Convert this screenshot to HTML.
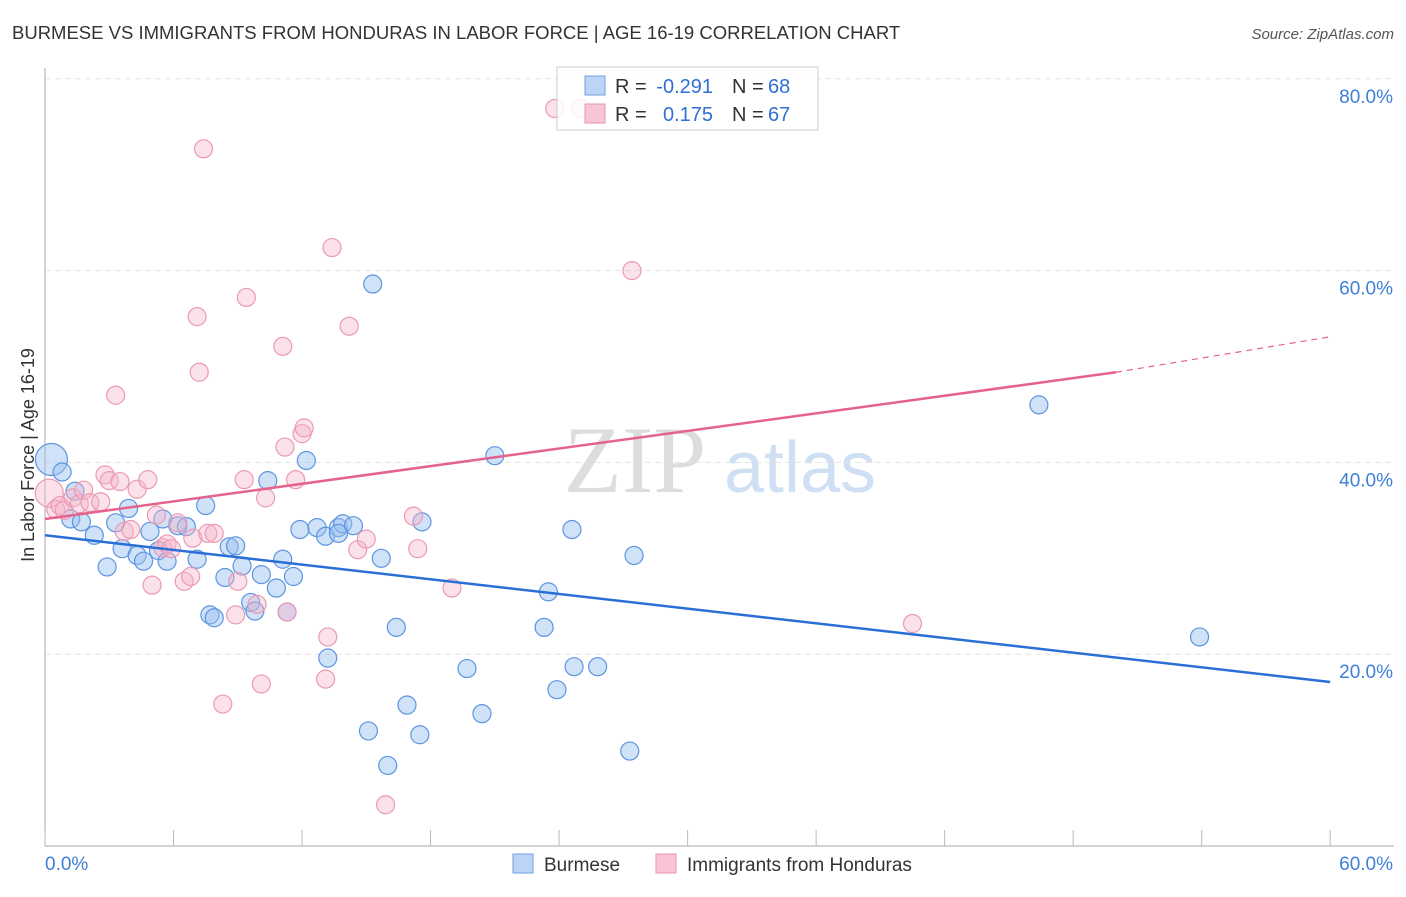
<!DOCTYPE html>
<html><head><meta charset="utf-8"><style>
body{margin:0;background:#fff;font-family:"Liberation Sans",sans-serif}
</style></head><body>
<svg id="c" width="1406" height="892" xmlns="http://www.w3.org/2000/svg" style="font-family:'Liberation Sans',sans-serif">
<text x="12" y="39" font-size="18.5" fill="#333">BURMESE VS IMMIGRANTS FROM HONDURAS IN LABOR FORCE | AGE 16-19 CORRELATION CHART</text>
<text x="1394" y="39" font-size="15" fill="#555" font-style="italic" text-anchor="end">Source: ZipAtlas.com</text>
<text x="635" y="492" font-size="95" fill="#ddd" font-family="Liberation Serif" text-anchor="middle">ZIP</text>
<text x="800" y="492" font-size="72" fill="#cfe0f4" text-anchor="middle">atlas</text>
<text transform="translate(34,455) rotate(-90)" font-size="18" fill="#333" text-anchor="middle">In Labor Force | Age 16-19</text>
<g id="grid"></g><g id="pts"></g><g id="lines"></g>
<g>
<rect x="557" y="67" width="261" height="63" fill="#fff" fill-opacity="0.85" stroke="#ccc"/>
<rect x="585" y="76" width="20" height="19" fill="#bcd4f6" stroke="#6f9fe0"/>
<rect x="585" y="104" width="20" height="19" fill="#f8c5d4" stroke="#e995b0"/>
<text x="615" y="93" font-size="20" fill="#333">R =</text>
<text x="713" y="93" font-size="20" fill="#2f6fd6" text-anchor="end">-0.291</text>
<text x="732" y="93" font-size="20" fill="#333">N =</text>
<text x="768" y="93" font-size="20" fill="#2f6fd6">68</text>
<text x="615" y="121" font-size="20" fill="#333">R =</text>
<text x="713" y="121" font-size="20" fill="#2f6fd6" text-anchor="end">0.175</text>
<text x="732" y="121" font-size="20" fill="#333">N =</text>
<text x="768" y="121" font-size="20" fill="#2f6fd6">67</text>
</g>
<g>
<rect x="513" y="854" width="20" height="19" fill="#bcd4f6" stroke="#6f9fe0"/>
<text x="544" y="871" font-size="19" fill="#333">Burmese</text>
<rect x="656" y="854" width="20" height="19" fill="#f8c5d4" stroke="#e995b0"/>
<text x="687" y="871" font-size="19" fill="#333">Immigrants from Honduras</text>
</g>
</svg>
<script>
const xTicks=[0,60];
const yTicks=[20,40,60,80];
const blueX=[0.3,0.8,1.4,1.2,1.7,2.3,2.9,3.3,3.9,3.6,4.3,4.6,4.9,5.3,5.5,5.7,6.2,6.6,7.1,7.5,7.7,7.9,8.4,8.6,8.9,9.2,9.6,9.8,10.1,10.4,10.8,11.1,11.6,11.3,11.9,12.2,12.7,13.1,13.7,13.9,14.4,13.7,13.2,15.1,15.3,15.7,16.0,16.4,16.9,17.5,17.6,19.7,20.4,21.0,23.3,23.5,23.9,24.6,24.7,25.8,27.3,27.5,46.4,53.9];
const blueY=[40.3,39.0,37.0,34.1,33.8,32.4,29.1,33.7,35.2,31.0,30.3,29.7,32.8,30.8,34.1,29.7,33.4,33.3,29.9,35.5,24.1,23.8,28.0,31.2,31.3,29.2,25.4,24.5,28.3,38.1,26.9,29.9,28.1,24.4,33.0,40.2,33.2,32.3,33.2,33.6,33.4,32.6,19.6,12.0,58.6,30.0,8.4,22.8,14.7,11.6,33.8,18.5,13.8,40.7,22.8,26.5,16.3,33.0,18.7,18.7,9.9,30.3,46.0,21.8];
const pinkX=[0.2,0.5,0.7,0.9,1.3,1.6,1.8,2.1,2.6,2.8,3.0,3.3,3.5,3.7,4.0,4.3,4.8,5.2,5.0,5.5,5.7,5.9,6.2,6.5,6.8,7.1,7.2,6.9,7.4,7.6,7.9,8.3,8.9,9.0,9.3,9.4,9.9,10.1,10.3,11.1,11.2,11.3,11.7,12.0,12.1,13.1,13.2,13.4,14.2,14.6,15.0,17.2,17.4,15.9,19.0,23.8,25.0,27.4,40.5];
const pinkY=[36.8,35.1,35.5,35.0,36.3,35.7,37.1,35.8,35.9,38.7,38.1,47.0,38.0,32.8,33.0,37.2,38.2,34.5,27.2,31.1,31.5,31.0,33.7,27.6,28.1,55.2,49.4,32.1,72.7,32.6,32.6,14.8,24.1,27.6,38.2,57.2,25.2,16.9,36.3,52.1,41.6,24.4,38.2,43.0,43.6,17.4,21.8,62.4,54.2,30.9,32.0,34.4,31.0,4.3,26.9,76.9,76.9,60.0,23.2];
const blueTrend=[32.4,17.1];
const pinkTrend=[34.1,50.0,49.4,53.1];
const X=v=>45+v*21.42, Y=v=>846-v*9.59;
const NS="http://www.w3.org/2000/svg";
function mk(t,a,p){const e=document.createElementNS(NS,t);for(const k in a)e.setAttribute(k,a[k]);p.appendChild(e);return e;}
const g=document.getElementById('grid');
yTicks.forEach(v=>{
 const l=mk('line',{x1:45,x2:1394,y1:Y(v),y2:Y(v),stroke:'#e4e4e4','stroke-dasharray':'6,4'},g);
 
 
 const t=mk('text',{x:1393,y:Y(v)+24,'font-size':19,fill:'#3f7fd8','text-anchor':'end'},g);t.textContent=v.toFixed(1)+'%';
 
 
});
const ax=mk('line',{x1:45,x2:45,y1:68,y2:846,stroke:'#aaa'},g);


const bx=mk('line',{x1:45,x2:1394,y1:846,y2:846,stroke:'#aaa'},g);


for(let i=0;i<=10;i++){const tk=mk('line',{x1:X(i*6),x2:X(i*6),y1:830,y2:846,stroke:'#bbb'},g);
 
 }
xTicks.forEach((v,i)=>{const t=mk('text',{x:i?1393:45,y:870,'font-size':19,fill:'#3f7fd8','text-anchor':i?'end':'start'},g);t.textContent=v.toFixed(1)+'%';
 
 });
const p=document.getElementById('pts');
blueX.forEach((x,i)=>{const c=mk('circle',{cx:X(x),cy:Y(blueY[i]),r:i==0?16:9,fill:'rgba(150,190,240,0.45)',stroke:'#5c95e0','stroke-width':1.2},p);
 
 });
pinkX.forEach((x,i)=>{const c=mk('circle',{cx:X(x),cy:Y(pinkY[i]),r:i==0?14:9,fill:'rgba(246,180,200,0.4)',stroke:'#eb9ab4','stroke-width':1.2},p);
 
 });
const L=document.getElementById('lines');
const b=mk('line',{x1:X(0),y1:Y(blueTrend[0]),x2:X(60),y2:Y(blueTrend[1]),stroke:'#2a6fd6','stroke-width':2.5},L);


const pk=mk('line',{x1:X(0),y1:Y(pinkTrend[0]),x2:X(pinkTrend[1]),y2:Y(pinkTrend[2]),stroke:'#e4628c','stroke-width':2.5},L);


const pd=mk('line',{x1:X(pinkTrend[1]),y1:Y(pinkTrend[2]),x2:X(60),y2:Y(pinkTrend[3]),stroke:'#e4628c','stroke-width':1.2,'stroke-dasharray':'6,5'},L);


</script>
</body></html>
